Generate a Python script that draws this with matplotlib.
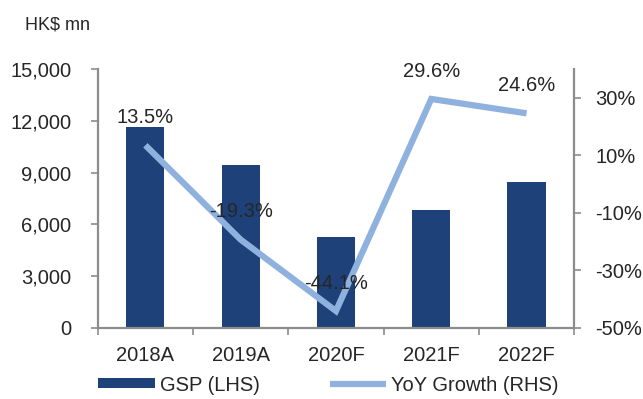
import matplotlib
matplotlib.use("Agg")
import matplotlib.pyplot as plt
from matplotlib.ticker import FuncFormatter, MultipleLocator, FixedLocator

plt.rcParams['font.family'] = ['Liberation Sans', 'DejaVu Sans']

# GSP and YoY growth
years = ["2018A", "2019A", "2020F", "2021F", "2022F"]
gsp = [11650, 9440, 5280, 6840, 8480]
yoy = [13.5, -19.3, -44.1, 29.6, 24.6]

bar_color = "#1D4178"
line_color = "#8FB1DE"
axis_color = "#8C8C8C"
text_color = "#262626"
fs = 14.5

fig = plt.figure(figsize=(6.43, 3.99), dpi=100)
ax = fig.add_axes([0.152, 0.178, 0.741, 0.649])
ax2 = ax.twinx()

x = list(range(len(years)))
bars = ax.bar(x, gsp, width=0.4, color=bar_color, label="GSP (LHS)", zorder=2)
line, = ax2.plot(x, yoy, color=line_color, lw=4.5, solid_capstyle="butt",
                 solid_joinstyle="miter", label="YoY Growth (RHS)", zorder=3)

for xi, v in zip(x, yoy):
    ax2.annotate(f"{v:.1f}%", (xi, v), xytext=(0, 20), textcoords="offset points",
                 ha="center", va="center", fontsize=fs, color=text_color)

# left axis
ax.set_xlim(-0.5, 4.5)
ax.set_ylim(0, 15000)
ax.yaxis.set_major_locator(MultipleLocator(3000))
ax.yaxis.set_major_formatter(FuncFormatter(lambda v, p: f"{v:,.0f}"))

# right axis
ax2.set_ylim(-50, 40)
ax2.yaxis.set_major_locator(FixedLocator([-50, -30, -10, 10, 30]))
ax2.yaxis.set_major_formatter(FuncFormatter(lambda v, p: f"{v:.0f}%"))

# category labels between boundary ticks
ax.set_xticks([i - 0.5 for i in range(len(years) + 1)])
ax.set_xticklabels([])
ax.set_xticks(x, minor=True)
ax.set_xticklabels(years, minor=True)
ax.tick_params(axis="x", which="minor", length=0, pad=13, labelsize=fs, labelcolor=text_color)
ax.tick_params(axis="x", which="major", length=5, width=1.2, color=axis_color, direction="out")

ax.tick_params(axis="y", length=5, width=1.2, color=axis_color, labelsize=fs,
               labelcolor=text_color, pad=14)
ax2.tick_params(axis="y", length=5, width=1.2, color=axis_color, labelsize=fs,
                labelcolor=text_color, pad=10)

for a in (ax, ax2):
    a.spines["top"].set_visible(False)
    for s in ("left", "right", "bottom"):
        a.spines[s].set_color(axis_color)
        a.spines[s].set_linewidth(1.6)
ax.spines["right"].set_visible(False)
ax2.spines["left"].set_visible(False)
ax2.spines["bottom"].set_visible(False)

fig.text(0.039, 0.937, "HK$ mn", fontsize=13, color=text_color, va="center", ha="left")

fig.legend([bars, line], ["GSP (LHS)", "YoY Growth (RHS)"], loc="center",
           bbox_to_anchor=(0.511, 0.035), ncol=2, frameon=False, fontsize=fs,
           handlelength=2.8, handleheight=0.4, handletextpad=0.25,
           columnspacing=3.5, labelcolor=text_color)

fig.savefig("out.png", dpi=100)
